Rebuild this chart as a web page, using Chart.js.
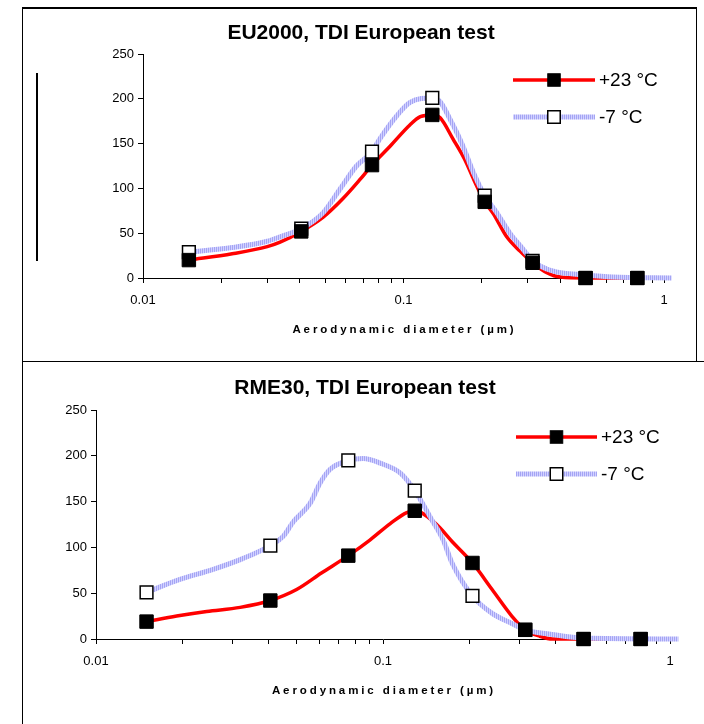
<!DOCTYPE html>
<html>
<head>
<meta charset="utf-8">
<script src="https://cdn.jsdelivr.net/npm/chart.js@4.4.0/dist/chart.umd.min.js"></script>
<style>
  body { margin: 0; background: #fff; width: 704px; height: 724px; position: relative; overflow: hidden; }
  .frame { position: absolute; box-sizing: border-box; }
  #frameTop { left: 22px; top: 7px; width: 675px; height: 355px; border: 1px solid #000; border-top-width: 2px; }
  #frameBottom { left: 22px; top: 361px; width: 700px; height: 400px; border-left: 1px solid #000; border-top: 1px solid #000; }
  #stray { left: 36px; top: 73px; width: 2px; height: 188px; background: #000; }
  canvas { position: absolute; left: 0; }
  #chartTop { top: 0; }
  #chartBottom { top: 361px; }
</style>
</head>
<body>
<div class="frame" id="frameTop"></div>
<div class="frame" id="frameBottom"></div>
<div class="frame" id="stray"></div>
<canvas id="chartTop" width="704" height="361"></canvas>
<canvas id="chartBottom" width="704" height="363"></canvas>
<script>
// ── Data ────────────────────────────────────────────────────────────────────
const seriesNames = ['+23 °C', '-7 °C'];
const xTitle = 'Aerodynamic diameter (µm)';
const yTicks = [0, 50, 100, 150, 200, 250];
const xTicks = [0.01, 0.02, 0.03, 0.04, 0.05, 0.06, 0.07, 0.08, 0.09,
                0.1, 0.2, 0.3, 0.4, 0.5, 0.6, 0.7, 0.8, 0.9, 1];
const xMajor = [0.01, 0.1, 1];
const xTickLabels = ['0.01', '0.1', '1'];

// measured size classes (markers)
const markerX = [0.015, 0.0405, 0.0757, 0.129, 0.205, 0.313, 0.5, 0.79];

// EU2000
const euTitle = 'EU2000, TDI European test';
const euWarmM = [20, 52, 126, 182, 85, 17, 0, 0];
const euColdM = [29, 55, 141, 201, 92, 19, 0, 0];
const euWarmX = [0.015, 0.022, 0.030, 0.0336, 0.0405, 0.0492, 0.0587, 0.0681, 0.0757, 0.0888, 0.106, 0.116,
                 0.129, 0.138, 0.155, 0.172, 0.186, 0.205, 0.221, 0.249, 0.280, 0.313, 0.355, 0.40, 0.5, 0.79];
const euWarmY = [20, 27, 35, 40, 52, 68, 89, 110, 126, 147, 171, 180,
                 182, 179, 155, 132, 110, 85, 72, 46, 30, 17, 6, 1, 0, 0];
const euColdX = [0.015, 0.022, 0.030, 0.0336, 0.0405, 0.0492, 0.057, 0.066, 0.0757, 0.081, 0.0942, 0.106,
                 0.129, 0.138, 0.151, 0.167, 0.186, 0.205, 0.228, 0.256, 0.288, 0.313, 0.355, 0.40, 0.47, 0.635, 1.07];
const euColdY = [29, 34, 41, 46, 55, 73, 99, 125, 141, 155, 181, 196,
                 201, 197, 177, 151, 117, 92, 73, 50, 32, 19, 10, 6, 4, 1, 0];

// RME30
const rmeTitle = 'RME30, TDI European test';
const rmeWarmM = [19, 42, 91, 140, 83, 10, 0, 0];
const rmeColdM = [51, 102, 195, 162, 47, 10, 0, 0];
const rmeWarmX = [0.015, 0.0191, 0.0243, 0.0318, 0.0405, 0.050, 0.061, 0.0757, 0.090, 0.106, 0.121,
                  0.129, 0.152, 0.174, 0.205, 0.240, 0.281, 0.313, 0.352, 0.39, 0.5, 0.79];
const rmeWarmY = [19, 25, 30, 34.5, 42, 54, 72, 91, 108, 126, 138,
                  140, 126.5, 106.5, 83, 54, 25, 10, 3, 0, 0, 0];
const rmeColdX = [0.015, 0.0196, 0.0256, 0.0326, 0.0405, 0.0449, 0.0487, 0.0557, 0.0603, 0.0653, 0.0757,
                  0.0854, 0.0977, 0.115, 0.129, 0.148, 0.162, 0.174, 0.205, 0.240, 0.281, 0.313, 0.388, 0.5, 1.07];
const rmeColdY = [51, 65, 76, 88, 102, 112, 128, 148, 170, 185, 195,
                  197, 192, 181, 162, 130, 108, 83, 47, 28, 17, 10, 5, 1, 0];

// ── Helpers ─────────────────────────────────────────────────────────────────
const FONT = '"Liberation Sans", Arial, sans-serif';
Chart.defaults.font.family = FONT;
Chart.defaults.color = '#000';

const pts = (xs, ys) => xs.map((x, i) => ({ x, y: ys[i] }));

// light blue striped line like the Excel pattern fill
function hatch() {
  const c = document.createElement('canvas');
  c.width = 2; c.height = 2;
  const g = c.getContext('2d');
  g.fillStyle = '#d2d2ff'; g.fillRect(0, 0, 2, 2);
  g.fillStyle = '#a4a4f4'; g.fillRect(0, 0, 1, 2);
  return g.createPattern(c, 'repeat');
}
const blueLine = hatch();

// ── Plugins: titles + legend ────────────────────────────────────────────────
const textPlugin = {
  id: 'frameText',
  afterDraw(chart, args, o) {
    const ctx = chart.ctx, a = chart.chartArea;
    ctx.save();
    ctx.fillStyle = '#000';
    ctx.textAlign = 'center';
    ctx.textBaseline = 'middle';
    ctx.font = 'bold 21px ' + FONT;
    ctx.fillText(o.title, o.titleX, o.titleY);
    ctx.font = 'bold 11.5px ' + FONT;
    ctx.letterSpacing = '2.9px';
    ctx.fillText(xTitle, (a.left + a.right) / 2 + 1, a.bottom + 51.5);
    ctx.restore();
  }
};

const legendPlugin = {
  id: 'lineLegend',
  afterDraw(chart, args, o) {
    const ctx = chart.ctx, ds = chart.data.datasets;
    ctx.save();
    o.items.forEach(it => {
      const line = ds[it.line], mark = ds[it.mark];
      ctx.strokeStyle = line.borderColor;
      ctx.lineWidth = line.borderWidth;
      ctx.beginPath(); ctx.moveTo(o.x0, it.y); ctx.lineTo(o.x1, it.y); ctx.stroke();
      const mx = (o.x0 + o.x1) / 2, s = 12.5;
      ctx.fillStyle = mark.pointBackgroundColor;
      ctx.fillRect(mx - s / 2, it.y - s / 2, s, s);
      ctx.strokeStyle = mark.pointBorderColor;
      ctx.lineWidth = mark.pointBorderWidth;
      ctx.strokeRect(mx - s / 2, it.y - s / 2, s, s);
      ctx.fillStyle = '#000';
      ctx.font = '19px ' + FONT;
      ctx.textAlign = 'left';
      ctx.textBaseline = 'middle';
      ctx.fillText(line.label, o.x1 + 4, it.y + 1);
    });
    ctx.restore();
  }
};

// ── Chart builder ───────────────────────────────────────────────────────────
function makeChart(id, o) {
  return new Chart(document.getElementById(id), {
    type: 'line',
    data: {
      datasets: [
        { label: seriesNames[0], data: pts(o.warmX, o.warmY), borderColor: '#ff0000', borderWidth: 3.5,
          pointRadius: 0, cubicInterpolationMode: 'monotone', order: 3, clip: false },
        { label: seriesNames[1], data: pts(o.coldX, o.coldY), borderColor: blueLine, borderWidth: 5,
          pointRadius: 0, cubicInterpolationMode: 'monotone', order: 2, clip: false },
        { label: seriesNames[1], data: pts(markerX, o.coldM), showLine: false, pointStyle: 'rect',
          pointRadius: 9, pointBackgroundColor: '#fff', pointBorderColor: '#000', pointBorderWidth: 1.5, order: 1, clip: false },
        { label: seriesNames[0], data: pts(markerX, o.warmM), showLine: false, pointStyle: 'rect',
          pointRadius: 9.5, pointBackgroundColor: '#000', pointBorderColor: '#000', pointBorderWidth: 1, order: 0, clip: false }
      ]
    },
    options: {
      responsive: false,
      animation: false,
      devicePixelRatio: 1,
      layout: { padding: o.padding },
      plugins: {
        legend: { display: false },
        title: { display: false },
        tooltip: { enabled: false },
        frameText: { title: o.title, titleX: o.titleX, titleY: o.titleY },
        lineLegend: o.legend
      },
      scales: {
        x: {
          type: 'logarithmic',
          min: 0.01,
          max: 1,
          afterBuildTicks: s => { s.ticks = xTicks.map(v => ({ value: v })); },
          afterFit: s => { s.height = 40; },
          border: { color: '#000', width: 1 },
          grid: { drawOnChartArea: false, color: '#000', tickLength: 5 },
          ticks: {
            autoSkip: false,
            maxRotation: 0,
            padding: 10,
            font: { size: 13 },
            callback: v => {
              const i = xMajor.findIndex(m => Math.abs(m - v) < 1e-9);
              return i >= 0 ? xTickLabels[i] : '';
            }
          }
        },
        y: {
          min: 0,
          max: 250,
          afterBuildTicks: s => { s.ticks = yTicks.map(v => ({ value: v })); },
          afterFit: s => { s.width = 50; },
          border: { color: '#000', width: 1 },
          grid: { drawOnChartArea: false, color: '#000', tickLength: 5 },
          ticks: { padding: 4, font: { size: 13 } }
        }
      }
    },
    plugins: [textPlugin, legendPlugin]
  });
}

// ── Init ────────────────────────────────────────────────────────────────────
makeChart('chartTop', {
  title: euTitle, titleX: 361, titleY: 33,
  warmX: euWarmX, warmY: euWarmY, coldX: euColdX, coldY: euColdY,
  warmM: euWarmM, coldM: euColdM,
  padding: { top: 54, left: 93, right: 40, bottom: 43 },
  legend: { x0: 513, x1: 595, items: [{ line: 0, mark: 3, y: 80 }, { line: 1, mark: 2, y: 117 }] }
});

makeChart('chartBottom', {
  title: rmeTitle, titleX: 365, titleY: 27,
  warmX: rmeWarmX, warmY: rmeWarmY, coldX: rmeColdX, coldY: rmeColdY,
  warmM: rmeWarmM, coldM: rmeColdM,
  padding: { top: 49, left: 46, right: 34, bottom: 45 },
  legend: { x0: 516, x1: 597, items: [{ line: 0, mark: 3, y: 76 }, { line: 1, mark: 2, y: 113 }] }
});
</script>
</body>
</html>
